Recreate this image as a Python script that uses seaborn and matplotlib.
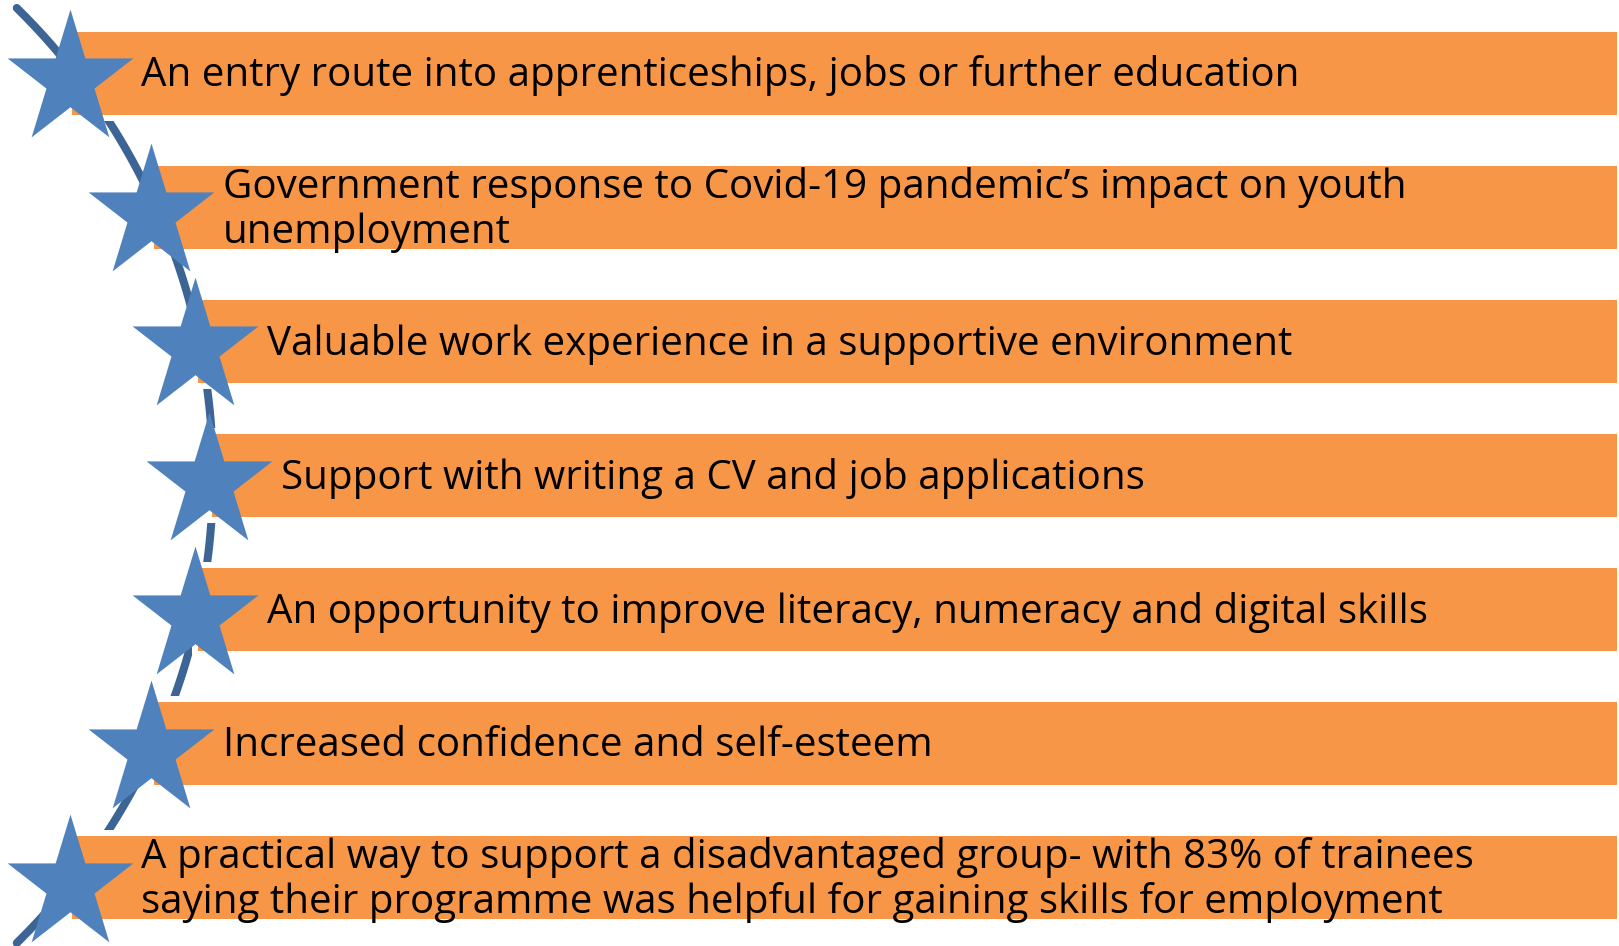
import numpy as np
import seaborn as sns
import matplotlib.pyplot as plt
from matplotlib.path import Path

labels = [
    "An entry route into apprenticeships, jobs or further education",
    "Government response to Covid-19 pandemic\u2019s impact on youth\nunemployment",
    "Valuable work experience in a supportive environment",
    "Support with writing a CV and job applications",
    "An opportunity to improve literacy, numeracy and digital skills",
    "Increased confidence and self-esteem",
    "A practical way to support a disadvantaged group- with 83% of trainees\nsaying their programme was helpful for gaining skills for employment",
]

BAR = "#F79646"
STAR = "#4F81BD"
ARC = "#3C6596"

sns.set_theme(style="white")
plt.rcParams["font.family"] = ["Open Sans", "DejaVu Sans"]

W, H = 1619, 946
fig = plt.figure(figsize=(W / 100, H / 100), dpi=100)
ax = fig.add_axes([0, 0, 1, 1])
ax.set_xlim(0, W)
ax.set_ylim(H, 0)
ax.axis("off")

MID = 475.5


def circle_x(y, c, r):
    return c + np.sqrt(r ** 2 - (y - MID) ** 2)


# connecting arc (pixel space)
yy = np.linspace(8, 943, 300)
sns.lineplot(x=circle_x(yy, -442, 655), y=yy, sort=False, estimator=None,
             color=ARC, linewidth=5.8, solid_capstyle="round", ax=ax, zorder=1)

n = len(labels)
centers = 73.5 + 134 * np.arange(n)
star_x = circle_x(centers, -440, 649)
left = star_x + 2.5
bar_h = 83.5

# white halo round each bar hides the arc where it passes behind
ax.barh(centers, 1630 - left, left=left - 6, height=bar_h + 12, color="white",
        edgecolor="none", zorder=2)
ax.barh(centers, 1617 - left, left=left, height=bar_h, color=BAR,
        edgecolor="none", zorder=3)

# five-point star centred on its bounding box
ang_o = np.deg2rad(90 + 72 * np.arange(5))
ang_i = ang_o + np.deg2rad(36)
pts = []
for a, b in zip(ang_o, ang_i):
    pts.append((np.cos(a), np.sin(a)))
    pts.append((0.382 * np.cos(b), 0.382 * np.sin(b)))
pts = np.array(pts)
pts[:, 1] = (pts[:, 1] - 0.0955) * 1.068
star = Path(np.vstack([pts, pts[:1]]), closed=True)

sns.scatterplot(x=star_x, y=centers, marker=star, s=92 ** 2,
                color=STAR, linewidth=0, ax=ax, zorder=4)

for y, x, lab in zip(centers, left, labels):
    ax.text(x + 69, y + 2.5, lab, ha="left", va="center", fontsize=29,
            color="black", linespacing=1.15, zorder=5)

fig.savefig("out.png", dpi=100)
